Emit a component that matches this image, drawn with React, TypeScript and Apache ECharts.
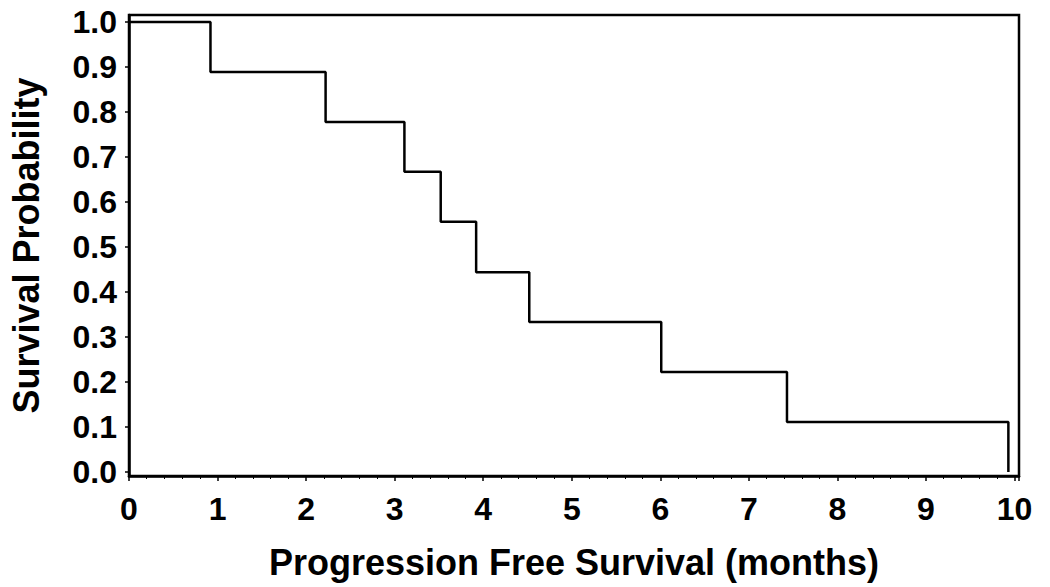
import React, { useEffect, useRef } from "react";
import * as echarts from "echarts";

const times = [0, 0.92, 2.22, 3.11, 3.52, 3.92, 4.52, 6.01, 7.43, 9.93];
const survival = [1.0, 0.889, 0.778, 0.667, 0.556, 0.444, 0.333, 0.222, 0.111, 0.0];
const yTicks = [0, 0.1, 0.2, 0.3, 0.4, 0.5, 0.6, 0.7, 0.8, 0.9, 1.0];
const xTitle = "Progression Free Survival (months)";
const yTitle = "Survival Probability";

export default function App() {
  const ref = useRef<HTMLDivElement>(null);
  useEffect(() => {
    if (!ref.current) return;
    const chart = echarts.init(ref.current, null, { renderer: "svg" });
    const font = "'Liberation Sans', Arial, sans-serif";
    chart.setOption({
      animation: false,
      backgroundColor: "#ffffff",
      grid: {
        left: 125,
        right: 31,
        top: 15,
        bottom: 111,
        show: true,
        borderColor: "#000",
        borderWidth: 2.5,
        backgroundColor: "transparent",
      },
      xAxis: {
        type: "value",
        min: 0,
        max: 10.05,
        interval: 1,
        name: xTitle,
        nameLocation: "middle",
        nameGap: 68,
        nameTextStyle: { fontFamily: font, fontWeight: "bold", fontSize: 36, color: "#000" },
        axisLine: { show: true, onZero: false, lineStyle: { color: "#000", width: 2.5 } },
        axisTick: { show: true, inside: false, length: 5, lineStyle: { color: "#000", width: 1.5 } },
        minorTick: { show: true, splitNumber: 5, length: 3, lineStyle: { color: "#000", width: 1 } },
        splitLine: { show: false },
        axisLabel: {
          margin: 17,
          showMaxLabel: false,
          fontFamily: font,
          fontWeight: "bold",
          fontSize: 32,
          color: "#000",
        },
      },
      yAxis: {
        type: "value",
        min: -0.009,
        max: 1.0156,
        name: yTitle,
        nameLocation: "middle",
        nameGap: 85,
        nameTextStyle: { fontFamily: font, fontWeight: "bold", fontSize: 36, color: "#000" },
        axisLine: { show: true, onZero: false, lineStyle: { color: "#000", width: 2.5 } },
        axisTick: { show: true, length: 4, customValues: yTicks, lineStyle: { color: "#000", width: 1.5 } },
        splitLine: { show: false },
        axisLabel: {
          margin: 12,
          customValues: yTicks,
          formatter: (v: number) => v.toFixed(1),
          fontFamily: font,
          fontWeight: "bold",
          fontSize: 32,
          color: "#000",
        },
      },
      series: [
        {
          type: "line",
          step: "end",
          symbol: "none",
          data: times.map((t, i) => [t, survival[i]]),
          lineStyle: { color: "#000", width: 2.5 },
        },
      ],
    });
    return () => chart.dispose();
  }, []);
  return (
    <div
      ref={ref}
      style={{ position: "fixed", left: 0, top: 0, width: 1050, height: 587, background: "#fff" }}
    />
  );
}
